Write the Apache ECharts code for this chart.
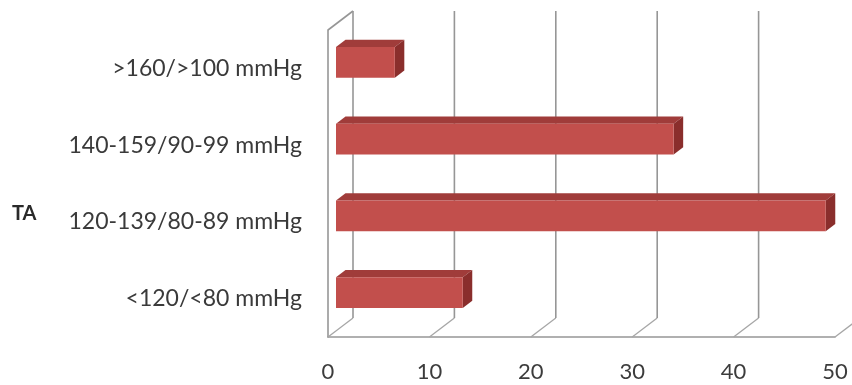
<!DOCTYPE html>
<html>
<head>
<meta charset="utf-8">
<style>
  html, body { margin: 0; padding: 0; background: #ffffff; }
  #chart { width: 852px; height: 385px; }
</style>
<script src="https://cdn.jsdelivr.net/npm/echarts@6/dist/echarts.min.js"></script>
</head>
<body>
<div id="chart"></div>
<script>
// Blood pressure classes (bottom to top) and their share, in %
const categories = ['<120/<80 mmHg', '120-139/80-89 mmHg', '140-159/90-99 mmHg', '>160/>100 mmHg'];
const shares = [12.5, 48.3, 33.3, 5.8];
const xTicks = [0, 10, 20, 30, 40, 50];
const axisTitle = 'TA';

// oblique 3D projection: full depth of the plot box, and where the bars sit in it
const DEPTH = [25, -19];
const BAR_FRONT = 0.32;
const BAR_BACK = 0.70;

const chart = echarts.init(document.getElementById('chart'), null, { renderer: 'canvas' });

const wallColor = '#969696';

function wallItem(params, api) {
  const rect = params.coordSys;
  const v = api.value(0);
  const p = api.coord([v, 0]);
  const x = p[0];
  const top = rect.y, bottom = rect.y + rect.height;
  const children = [
    // floor diagonal
    { type: 'line', shape: { x1: x, y1: bottom, x2: x + DEPTH[0], y2: bottom + DEPTH[1] },
      style: { stroke: '#a6a6a6', lineWidth: 1.3 } },
    // back wall gridline
    { type: 'line', shape: { x1: x + DEPTH[0], y1: top + DEPTH[1], x2: x + DEPTH[0], y2: bottom + DEPTH[1] },
      style: { stroke: wallColor, lineWidth: 1.6 } }
  ];
  if (v === 0) {
    // top edge of the side wall
    children.push({ type: 'line', shape: { x1: x, y1: top, x2: x + DEPTH[0], y2: top + DEPTH[1] },
      style: { stroke: wallColor, lineWidth: 1.6 } });
  }
  return { type: 'group', children: children };
}

function barItem(params, api) {
  const v = api.value(0);
  const c = api.value(1);
  const start = api.coord([0, c]);
  const end = api.coord([v, c]);
  const band = api.size([0, 1])[1];
  const h = band * 0.40;
  const fx = DEPTH[0] * BAR_FRONT, fy = DEPTH[1] * BAR_FRONT;
  const dx = DEPTH[0] * (BAR_BACK - BAR_FRONT), dy = DEPTH[1] * (BAR_BACK - BAR_FRONT);
  const x0 = start[0] + fx, x1 = end[0] + fx;
  const yT = start[1] - h / 2 + fy, yB = yT + h;
  return {
    type: 'group',
    children: [
      { type: 'polygon', shape: { points: [[x0, yT], [x1, yT], [x1 + dx, yT + dy], [x0 + dx, yT + dy]] },
        style: { fill: '#a03c3a' } },
      { type: 'polygon', shape: { points: [[x1, yT], [x1 + dx, yT + dy], [x1 + dx, yB + dy], [x1, yB]] },
        style: { fill: '#8a2e2c' } },
      { type: 'rect', shape: { x: x0, y: yT, width: x1 - x0, height: h },
        style: { fill: '#c24f4c' } }
    ]
  };
}

chart.setOption({
  animation: false,
  backgroundColor: '#ffffff',
  grid: { left: 328, right: 17, top: 30, bottom: 48, containLabel: false },
  xAxis: {
    type: 'value',
    min: 0, max: 50, interval: 10,
    axisLine: { show: true, lineStyle: { color: wallColor, width: 1.6 } },
    axisTick: { show: false },
    splitLine: { show: false },
    axisLabel: { margin: 24, fontFamily: 'Lato', fontSize: 22, color: '#3c3c3c' }
  },
  yAxis: {
    type: 'category',
    data: categories,
    axisLine: { show: true, lineStyle: { color: wallColor, width: 1.6 } },
    axisTick: { show: false },
    splitLine: { show: false },
    axisLabel: { margin: 26, fontFamily: 'Lato', fontSize: 23, color: '#3a3a3a' }
  },
  graphic: [
    { type: 'text', left: 12, top: 204,
      style: { text: axisTitle, font: 'bold 20px Lato', fill: '#2a2a2a' } }
  ],
  series: [
    {
      type: 'custom',
      name: 'walls',
      clip: false,
      z: 1,
      data: xTicks.map(t => [t]),
      encode: { x: 0 },
      renderItem: wallItem,
      silent: true
    },
    {
      type: 'custom',
      name: 'share',
      clip: false,
      z: 3,
      data: shares.map((v, i) => [v, i]),
      encode: { x: 0, y: 1 },
      renderItem: barItem
    }
  ]
});
</script>
</body>
</html>
